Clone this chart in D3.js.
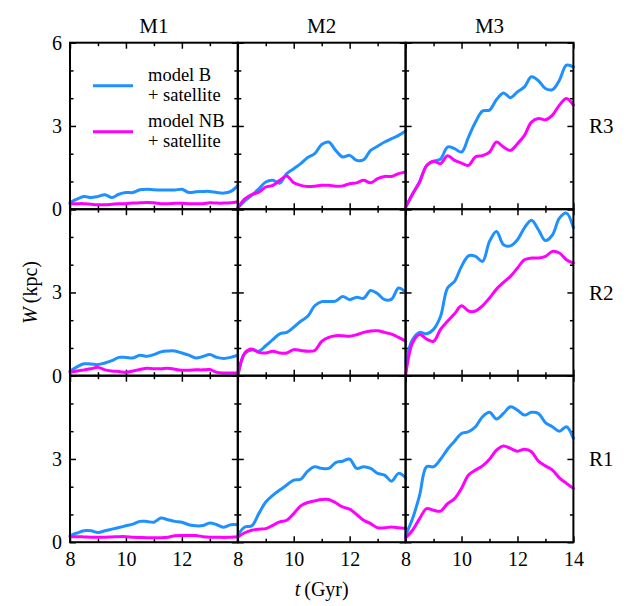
<!DOCTYPE html>
<html>
<head>
<meta charset="utf-8">
<script src="https://cdn.jsdelivr.net/npm/d3@7"></script>
<style>
  body { margin: 0; background: #fff; }
  svg text { font-family: 'Liberation Serif', 'Times New Roman', serif; fill: #000; }
  .frame { fill: none; stroke: #000; stroke-width: 2; }
  .tick line { stroke: #000; stroke-width: 1.5; }
  .series { fill: none; stroke-width: 3; stroke-linejoin: round; stroke-linecap: round; }
</style>
</head>
<body>
<div id="chart"></div>
<script>
// time samples (Gyr)
const tValues = [8, 8.25, 8.5, 8.75, 9, 9.25, 9.5, 9.75, 10, 10.25, 10.5, 10.75, 11,
  11.25, 11.5, 11.75, 12, 12.25, 12.5, 12.75, 13, 13.25, 13.5, 13.75, 14];

const columns = ['M1', 'M2', 'M3'];
const rows = ['R3', 'R2', 'R1'];
const seriesNames = ['model B\n+ satellite', 'model NB\n+ satellite'];

// W (kpc), model B + satellite
const wB_M1R3 = [0.24, 0.36, 0.46, 0.42, 0.46, 0.52, 0.42, 0.54, 0.6, 0.6, 0.7, 0.72, 0.7, 0.69, 0.69, 0.69, 0.72, 0.6, 0.63, 0.64, 0.64, 0.6, 0.58, 0.64, 0.85];
const wB_M1R2 = [0.17, 0.32, 0.43, 0.42, 0.4, 0.46, 0.54, 0.66, 0.66, 0.64, 0.74, 0.7, 0.76, 0.86, 0.89, 0.89, 0.82, 0.74, 0.64, 0.69, 0.76, 0.66, 0.62, 0.66, 0.74];
const wB_M1R1 = [0.24, 0.33, 0.41, 0.41, 0.35, 0.41, 0.47, 0.53, 0.59, 0.65, 0.75, 0.75, 0.72, 0.87, 0.81, 0.75, 0.72, 0.63, 0.59, 0.6, 0.69, 0.63, 0.54, 0.63, 0.63];
const wB_M2R3 = [0.05, 0.3, 0.5, 0.73, 0.98, 1.04, 0.94, 1.28, 1.46, 1.64, 1.86, 2.0, 2.33, 2.42, 2.12, 1.88, 1.94, 1.76, 1.78, 2.12, 2.27, 2.42, 2.54, 2.66, 2.82];
const wB_M2R2 = [0.0, 0.8, 0.93, 0.88, 1.08, 1.3, 1.51, 1.56, 1.75, 1.96, 2.14, 2.52, 2.67, 2.67, 2.69, 2.85, 2.74, 2.83, 2.79, 3.07, 2.95, 2.74, 2.76, 3.16, 3.0];
const wB_M2R1 = [0.25, 0.55, 0.59, 1.03, 1.45, 1.69, 1.88, 2.06, 2.24, 2.27, 2.56, 2.72, 2.66, 2.66, 2.87, 2.92, 2.99, 2.66, 2.72, 2.66, 2.48, 2.42, 2.2, 2.48, 2.32];
const wB_M3R3 = [0.07, 0.55, 0.98, 1.57, 1.73, 1.81, 2.24, 2.18, 2.06, 2.6, 3.14, 3.54, 3.57, 3.95, 4.19, 4.02, 4.23, 4.41, 4.77, 4.63, 4.35, 4.31, 4.65, 5.19, 5.13];
const wB_M3R2 = [0.5, 1.3, 1.56, 1.51, 1.67, 2.14, 3.16, 3.4, 3.94, 4.32, 4.3, 4.12, 4.84, 5.2, 4.72, 4.68, 4.9, 5.33, 5.6, 5.26, 4.87, 5.07, 5.68, 5.86, 5.33];
const wB_M3R1 = [0.25, 0.85, 1.69, 2.72, 2.72, 2.99, 3.35, 3.64, 3.92, 3.98, 4.16, 4.52, 4.68, 4.44, 4.64, 4.88, 4.76, 4.58, 4.68, 4.64, 4.31, 4.16, 4.0, 4.16, 3.74];

// W (kpc), model NB + satellite
const wNB_M1R3 = [0.2, 0.2, 0.2, 0.18, 0.16, 0.16, 0.18, 0.2, 0.2, 0.22, 0.23, 0.24, 0.23, 0.2, 0.2, 0.21, 0.21, 0.2, 0.2, 0.2, 0.23, 0.22, 0.22, 0.23, 0.27];
const wNB_M1R2 = [0.12, 0.17, 0.21, 0.25, 0.3, 0.21, 0.17, 0.15, 0.12, 0.17, 0.22, 0.27, 0.25, 0.25, 0.27, 0.23, 0.2, 0.2, 0.21, 0.21, 0.22, 0.12, 0.1, 0.1, 0.1];
const wNB_M1R1 = [0.2, 0.2, 0.19, 0.18, 0.18, 0.18, 0.19, 0.2, 0.2, 0.18, 0.17, 0.16, 0.16, 0.16, 0.18, 0.23, 0.24, 0.24, 0.24, 0.2, 0.18, 0.18, 0.17, 0.18, 0.19];
const wNB_M2R3 = [0.05, 0.37, 0.53, 0.61, 0.8, 0.86, 1.04, 1.2, 0.95, 0.86, 0.82, 0.83, 0.86, 0.86, 0.83, 0.84, 0.92, 0.95, 1.04, 0.95, 1.1, 1.18, 1.18, 1.28, 1.34];
const wNB_M2R2 = [0.0, 0.82, 0.96, 0.84, 0.82, 0.88, 0.82, 0.82, 0.94, 0.91, 0.88, 0.91, 1.24, 1.38, 1.44, 1.44, 1.42, 1.48, 1.56, 1.61, 1.62, 1.56, 1.5, 1.38, 1.24];
const wNB_M2R1 = [0.19, 0.34, 0.43, 0.47, 0.49, 0.61, 0.73, 0.79, 1.03, 1.31, 1.43, 1.49, 1.54, 1.54, 1.42, 1.27, 1.19, 1.0, 0.79, 0.67, 0.52, 0.52, 0.55, 0.52, 0.49];
const wNB_M3R3 = [0.07, 0.55, 0.98, 1.57, 1.73, 1.64, 1.93, 1.76, 1.66, 1.58, 1.89, 1.93, 2.06, 2.42, 2.24, 2.12, 2.36, 2.66, 3.14, 3.27, 3.22, 3.39, 3.75, 3.99, 3.75];
const wNB_M3R2 = [0.0, 1.18, 1.48, 1.32, 1.24, 1.67, 1.96, 2.23, 2.52, 2.33, 2.33, 2.52, 2.8, 3.12, 3.36, 3.58, 3.88, 4.18, 4.24, 4.24, 4.3, 4.48, 4.42, 4.18, 4.06];
const wNB_M3R1 = [0.16, 0.43, 0.85, 1.21, 1.15, 1.12, 1.39, 1.57, 1.94, 2.42, 2.6, 2.75, 2.99, 3.32, 3.47, 3.38, 3.28, 3.35, 3.26, 2.92, 2.75, 2.6, 2.32, 2.12, 1.94];

// panels[row][col] -> [B, NB]
const panels = [
  [[wB_M1R3, wNB_M1R3], [wB_M2R3, wNB_M2R3], [wB_M3R3, wNB_M3R3]],
  [[wB_M1R2, wNB_M1R2], [wB_M2R2, wNB_M2R2], [wB_M3R2, wNB_M3R2]],
  [[wB_M1R1, wNB_M1R1], [wB_M2R1, wNB_M2R1], [wB_M3R1, wNB_M3R1]]
];

const xMajor = [8, 10, 12, 14];
const xMinor = [9, 11, 13];
const yMajor = [0, 3, 6];
const yMinor = [1, 2, 4, 5];
const colors = ['#1e90ff', '#ff00ff'];

const W = 640, H = 606;
const padLeft = 70, padTop = 42.7;
const pw = 167.8, ph = 166.5;

const svg = d3.select('#chart').append('svg')
  .attr('width', W)
  .attr('height', H);

const x = d3.scaleLinear().domain([8, 14]).range([0, pw]);
const y = d3.scaleLinear().domain([0, 6]).range([ph, 0]);

const line = d3.line()
  .x((d, i) => x(tValues[i]))
  .y(d => y(d))
  .curve(d3.curveCatmullRom.alpha(0.5));

function ticks(g, axis, values, size) {
  g.call(axis.tickValues(values).tickSize(size).tickFormat(''))
    .call(s => s.select('.domain').remove());
}

for (let r = 0; r < 3; r++) {
  for (let c = 0; c < 3; c++) {
    const g = svg.append('g')
      .attr('transform', `translate(${padLeft + c * pw},${padTop + r * ph})`);

    // inward ticks on all four sides
    [[xMajor, 6], [xMinor, 3.5]].forEach(([vals, len]) => {
      ticks(g.append('g').attr('transform', `translate(0,${ph})`), d3.axisBottom(x), vals, -len);
      ticks(g.append('g'), d3.axisTop(x), vals, -len);
    });
    [[yMajor, 6], [yMinor, 3.5]].forEach(([vals, len]) => {
      ticks(g.append('g'), d3.axisLeft(y), vals, -len);
      ticks(g.append('g').attr('transform', `translate(${pw},0)`), d3.axisRight(y), vals, -len);
    });

    // the two series
    panels[r][c].forEach((vals, k) => {
      g.append('path')
        .datum(vals)
        .attr('class', 'series')
        .attr('stroke', colors[k])
        .attr('d', line);
    });

    g.append('rect')
      .attr('class', 'frame')
      .attr('width', pw)
      .attr('height', ph);

    // tick labels
    if (c === 0) {
      const yl = r === 0 ? yMajor : [0, 3];
      g.append('g')
        .call(d3.axisLeft(y).tickValues(yl).tickSize(0).tickPadding(8).tickFormat(d3.format('d')))
        .call(s => s.select('.domain').remove())
        .selectAll('text').style('font-size', '20px');
    }
    if (r === 2) {
      const xl = c === 2 ? xMajor : [8, 10, 12];
      g.append('g')
        .attr('transform', `translate(0,${ph})`)
        .call(d3.axisBottom(x).tickValues(xl).tickSize(0).tickPadding(10).tickFormat(d3.format('d')))
        .call(s => s.select('.domain').remove())
        .selectAll('text').style('font-size', '20px');
    }
  }
}

// column and row titles
svg.selectAll('.col-title')
  .data(columns)
  .enter()
  .append('text')
  .attr('class', 'col-title')
  .attr('x', (d, i) => padLeft + (i + 0.5) * pw)
  .attr('y', 33)
  .attr('text-anchor', 'middle')
  .style('font-size', '21px')
  .text(d => d);

svg.selectAll('.row-title')
  .data(rows)
  .enter()
  .append('text')
  .attr('class', 'row-title')
  .attr('x', 589)
  .attr('y', (d, i) => padTop + (i + 0.5) * ph)
  .attr('dy', '0.35em')
  .style('font-size', '21px')
  .text(d => d);

// axis titles
const yTitle = svg.append('text')
  .attr('transform', `translate(37,${padTop + 1.5 * ph}) rotate(-90)`)
  .attr('text-anchor', 'middle')
  .style('font-size', '20px');
yTitle.append('tspan').style('font-style', 'italic').text('W');
yTitle.append('tspan').text('\u2009(kpc)');

const xTitle = svg.append('text')
  .attr('x', padLeft + 1.5 * pw)
  .attr('y', 596)
  .attr('text-anchor', 'middle')
  .style('font-size', '20px');
xTitle.append('tspan').style('font-style', 'italic').text('t');
xTitle.append('tspan').text('\u2009(Gyr)');

// legend
const legend = svg.append('g').attr('transform', 'translate(93,0)');
[85.7, 131.7].forEach((ly, k) => {
  legend.append('line')
    .attr('x1', 0).attr('x2', 40)
    .attr('y1', ly).attr('y2', ly)
    .attr('stroke', colors[k])
    .attr('stroke-width', 3);
  const txt = legend.append('text')
    .attr('x', 55)
    .attr('y', ly - 5)
    .style('font-size', '18.5px');
  seriesNames[k].split('\n').forEach((s, j) => {
    txt.append('tspan').attr('x', 55).attr('dy', j === 0 ? 0 : 20).text(s);
  });
});
</script>
</body>
</html>
